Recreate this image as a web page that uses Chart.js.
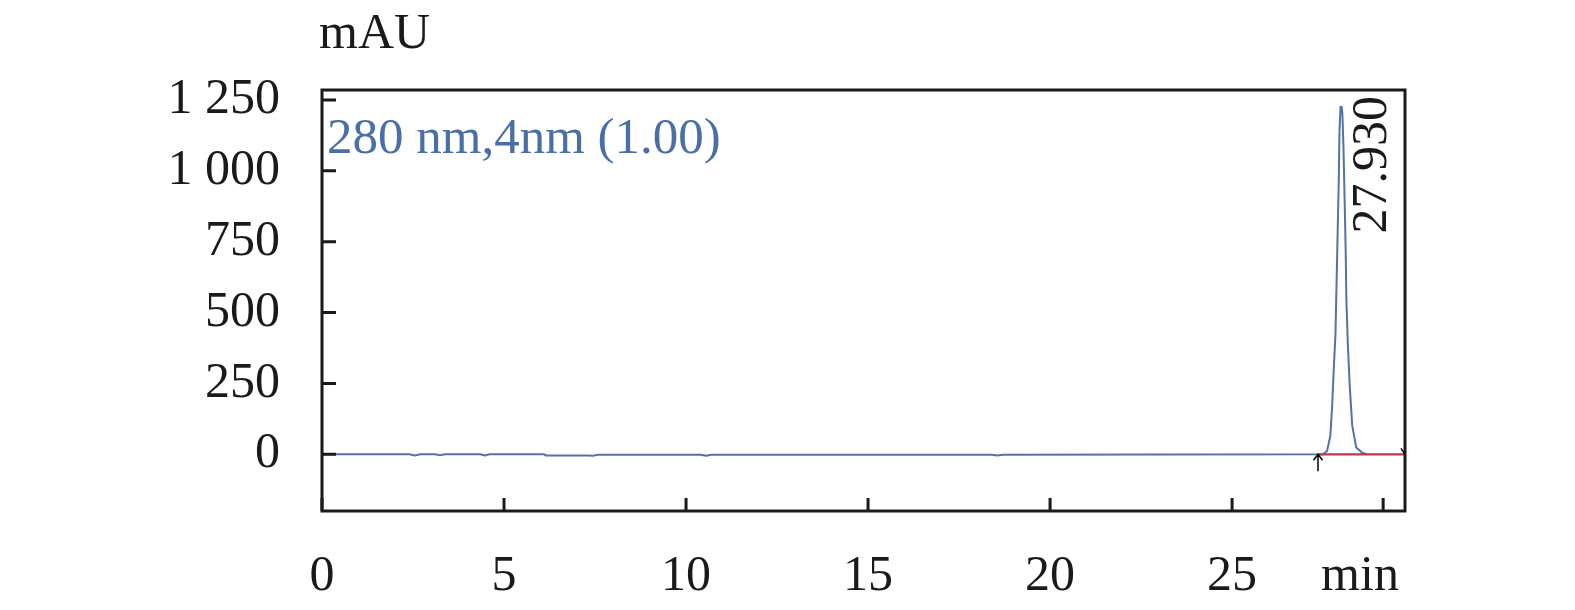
<!DOCTYPE html>
<html>
<head>
<meta charset="utf-8">
<script src="https://cdn.jsdelivr.net/npm/chart.js@4"></script>
<style>
  body { margin: 0; background: #fff; }
  canvas { display: block; }
</style>
</head>
<body>
<canvas id="chromChart" width="1575" height="610"></canvas>
<script>
// retention time (min) and absorbance (mAU)
const timeMin = [0, 2.4, 2.55, 2.7, 3.1, 3.24, 3.38, 4.35, 4.47, 4.6, 6.1, 6.15, 7.3, 7.44, 7.58, 10.4, 10.55, 10.7,
  18.4, 18.55, 18.7, 27.5, 27.61, 27.7, 27.75, 27.79, 27.84, 27.87, 27.9, 27.93, 27.95, 27.98, 28.01,
  28.03, 28.06, 28.09, 28.12, 28.14, 28.18, 28.23, 28.3, 28.41, 28.57, 28.7];
const absorbance = [0, 0, -4, 0, 0, -3, 0, 0, -4, 0, 0, -4, -4, -5, -2, -2, -5, -2,
  -2, -4, -2, 0, 12, 66, 173, 293, 424, 604, 783, 962, 1141, 1225, 1225,
  1201, 1082, 902, 723, 544, 388, 245, 102, 24, 6, 0];

// integration baseline (red)
const baseTime = [27.36, 29.75];
const baseVal = [0, 0];

const xTickValues = [0, 5, 10, 15, 20, 25, 29.15];
const yTickValues = [0, 250, 500, 750, 1000, 1250];
const peakLabel = '27.930';
const peakTime = 27.93;
const traceLabel = '280 nm,4nm (1.00)';

const FONT = "'Liberation Serif', 'Times New Roman', serif";

const boxAndMarks = {
  id: 'boxAndMarks',
  afterDraw(chart) {
    const { ctx, chartArea: a, scales: { x, y } } = chart;
    ctx.save();
    ctx.strokeStyle = '#1a1a1a';
    ctx.lineWidth = 3;
    ctx.strokeRect(a.left, a.top, a.right - a.left, a.bottom - a.top);
    // inward ticks
    ctx.beginPath();
    yTickValues.forEach(v => {
      const py = y.getPixelForValue(v);
      ctx.moveTo(a.left, py); ctx.lineTo(a.left + 14, py);
    });
    xTickValues.forEach(v => {
      const px = x.getPixelForValue(v);
      ctx.moveTo(px, a.bottom); ctx.lineTo(px, a.bottom - 13);
    });
    ctx.stroke();

    // start-of-peak arrow and end mark
    const ax = x.getPixelForValue(baseTime[0]);
    const ay = y.getPixelForValue(0);
    ctx.lineWidth = 1.5;
    ctx.strokeStyle = '#000';
    ctx.beginPath();
    ctx.moveTo(ax, ay + 17); ctx.lineTo(ax, ay);
    ctx.moveTo(ax - 4.5, ay + 6); ctx.lineTo(ax, ay); ctx.lineTo(ax + 4.5, ay + 6);
    ctx.moveTo(a.right - 4, ay - 6); ctx.lineTo(a.right, ay);
    ctx.stroke();

    // texts
    ctx.font = '50px ' + FONT;
    ctx.fillStyle = '#1a1a1a';
    ctx.textBaseline = 'alphabetic';
    ctx.textAlign = 'left';
    ctx.fillText('mAU', 319, 48);
    ctx.textAlign = 'center';
    ctx.fillText('min', 1360, 590);

    ctx.font = '51px ' + FONT;
    ctx.fillStyle = '#4a6ea6';
    ctx.textAlign = 'left';
    ctx.fillText(traceLabel, 327, 153);

    ctx.font = '50px ' + FONT;
    ctx.fillStyle = '#1a1a1a';
    ctx.translate(x.getPixelForValue(peakTime) + 47, 96);
    ctx.rotate(-Math.PI / 2);
    ctx.textAlign = 'right';
    ctx.fillText(peakLabel, 0, 0);
    ctx.restore();
  }
};

new Chart(document.getElementById('chromChart'), {
  type: 'scatter',
  data: {
    datasets: [
      {
        data: timeMin.map((t, i) => ({ x: t, y: absorbance[i] })),
        showLine: true,
        borderColor: '#5273a6',
        borderWidth: 2,
        pointRadius: 0,
        tension: 0,
        order: 2
      },
      {
        data: baseTime.map((t, i) => ({ x: t, y: baseVal[i] })),
        showLine: true,
        borderColor: '#b83a4b',
        borderWidth: 2.2,
        pointRadius: 0,
        order: 1
      }
    ]
  },
  options: {
    responsive: false,
    animation: false,
    layout: { padding: { top: 90, right: 170, left: 0, bottom: 0 } },
    plugins: { legend: { display: false }, tooltip: { enabled: false } },
    scales: {
      x: {
        type: 'linear',
        min: 0,
        max: 29.75,
        afterBuildTicks: s => { s.ticks = xTickValues.map(v => ({ value: v })); },
        afterFit: s => { s.height = 99; },
        grid: { display: false, drawTicks: false },
        border: { display: false },
        ticks: {
          autoSkip: false,
          maxRotation: 0,
          padding: 36,
          color: '#1a1a1a',
          font: { family: FONT, size: 50 },
          callback: v => (v === 29.15 ? '' : String(v))
        }
      },
      y: {
        min: -200,
        max: 1285,
        afterBuildTicks: s => { s.ticks = yTickValues.map(v => ({ value: v })); },
        afterFit: s => { s.width = 322; },
        grid: { display: false, drawTicks: false },
        border: { display: false },
        ticks: {
          padding: 42,
          color: '#1a1a1a',
          font: { family: FONT, size: 50 },
          callback: v => (v >= 1000 ? Math.floor(v / 1000) + ' ' + String(v % 1000).padStart(3, '0') : String(v))
        }
      }
    }
  },
  plugins: [boxAndMarks]
});
</script>
</body>
</html>
